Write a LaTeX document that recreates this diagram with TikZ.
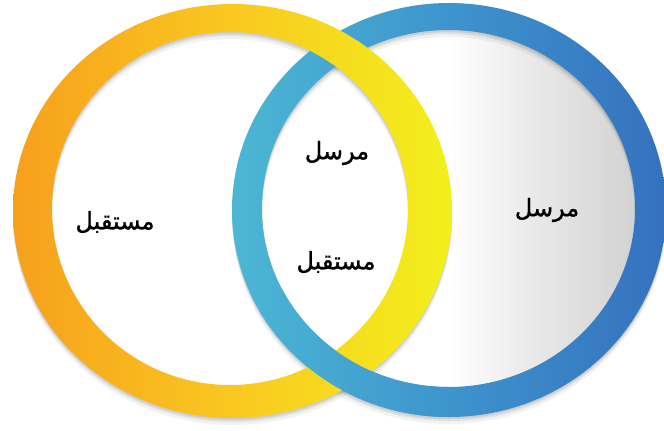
\documentclass[tikz,border=0pt]{standalone}
\usepackage{fontspec}
\newfontfamily\arabicfont[Script=Arabic,FakeBold=1.2]{DejaVu Sans}
\TeXXeTstate=1
\definecolor{ringA}{HTML}{F7A01C}
\definecolor{ringB}{HTML}{F9C820}
\definecolor{ringC}{HTML}{F2F01C}
\definecolor{blueA}{HTML}{4CB7D4}
\definecolor{blueB}{HTML}{3E94CD}
\definecolor{blueC}{HTML}{3571BE}
\definecolor{greyA}{HTML}{EAEAEA}
\definecolor{greyB}{HTML}{D2D2D2}
\pgfdeclarehorizontalshading{orangering}{100bp}{color(0bp)=(ringA); color(25bp)=(ringA); color(50bp)=(ringB); color(75bp)=(ringC); color(100bp)=(ringC)}
\pgfdeclarehorizontalshading{bluering}{100bp}{color(0bp)=(blueA); color(25bp)=(blueA); color(50bp)=(blueB); color(75bp)=(blueC); color(100bp)=(blueC)}
\pgfdeclarehorizontalshading{greyin}{100bp}{color(0bp)=(white); color(50bp)=(white); color(61bp)=(greyA); color(75bp)=(greyB); color(100bp)=(greyB)}
\begin{document}
\begin{tikzpicture}[x=0.75pt,y=-0.75pt,
  lbl/.style={font=\arabicfont\fontsize{18}{22}\selectfont, inner sep=0pt, text=black}]
\useasboundingbox (0,0) rectangle (664,430);
\fill[white] (0,0) rectangle (664,430);
% interior of the blue ring
\shade[shading=greyin] (448.5,208.5) ellipse [x radius=139.875pt, y radius=133.875pt];
% soft shadows
\foreach \d/\o in {7/0.05,4/0.07,2/0.08}{
  \fill[black,opacity=\o,even odd rule,shift={(0,\d)}]
    (449,210) ellipse [x radius=162.75pt, y radius=155.25pt]
    (448.5,208.5) ellipse [x radius=139.875pt, y radius=133.875pt];
  \fill[black,opacity=\o,even odd rule,shift={(0,\d)}]
    (232.5,211) ellipse [x radius=164.625pt, y radius=155.25pt]
    (230,208.5) ellipse [x radius=133.5pt, y radius=132.375pt];
}
% blue ring
\shade[shading=bluering,even odd rule]
  (449,210) ellipse [x radius=162.75pt, y radius=155.25pt]
  (448.5,208.5) ellipse [x radius=139.875pt, y radius=133.875pt];
% yellow ring
\shade[shading=orangering,even odd rule]
  (232.5,211) ellipse [x radius=164.625pt, y radius=155.25pt]
  (230,208.5) ellipse [x radius=133.5pt, y radius=132.375pt];
% blue ring over yellow at the lower crossing
\begin{scope}
  \clip (250,290) rectangle (450,430);
  \shade[shading=bluering,even odd rule]
    (449,210) ellipse [x radius=162.75pt, y radius=155.25pt]
    (448.5,208.5) ellipse [x radius=139.875pt, y radius=133.875pt];
\end{scope}
% labels
\node[lbl] (recvL) at (115,222) {\beginR مستقبل\endR};
\node[lbl] (sendM) at (337,153) {\beginR مرسل\endR};
\node[lbl] (recvM) at (336,262) {\beginR مستقبل\endR};
\node[lbl] (sendR) at (547,210) {\beginR مرسل\endR};
\end{tikzpicture}
\end{document}
